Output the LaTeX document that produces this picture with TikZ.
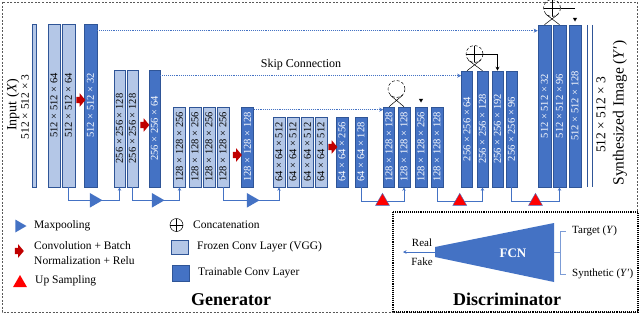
\documentclass[tikz,border=0pt]{standalone}
\usepackage{fontspec}
\setmainfont{Liberation Serif}
\usepackage{graphicx}
\definecolor{frozenblue}{RGB}{180, 199, 231}
\definecolor{trainblue}{RGB}{68, 114, 196}
\definecolor{barline}{RGB}{47, 85, 151}
\definecolor{convred}{RGB}{192, 0, 0}
\definecolor{upred}{RGB}{255, 0, 0}
\usetikzlibrary{
    shapes.geometric,
    shapes.arrows,
    arrows.meta,
    positioning,
    calc
}
\newcommand{\dimlabel}[1]{\rotatebox{90}{#1}}

\begin{document}
\begin{tikzpicture}[x=1pt, y=-1pt,
    frozen/.style={draw=barline, fill=frozenblue, inner sep=0pt, line width=0.6pt,
                   font=\fontsize{10.5}{11}\selectfont},
    trainable/.style={frozen, fill=trainblue, text=white},
    skipline/.style={trainblue, densely dotted, line width=0.9pt, -{Stealth[length=4pt, width=4pt]}},
    link/.style={trainblue, line width=0.7pt, -{Stealth[length=3.5pt, width=3.5pt]}},
    pool/.style={regular polygon, regular polygon sides=3, shape border rotate=-90,
                 fill=trainblue, inner sep=0pt, minimum size=17},
    upsample/.style={regular polygon, regular polygon sides=3, fill=upred, draw=trainblue,
                     line width=0.4pt, inner sep=0pt, minimum size=16},
    conv/.style={single arrow, fill=convred, inner sep=0pt, minimum height=9,
                 single arrow head extend=3.5, single arrow tip angle=100},
    merge/.style={circle, draw, densely dashed, line width=0.5pt, minimum size=17, inner sep=0pt},
    concat/.style={merge, path picture={\draw[solid, line width=0.6pt]
        (path picture bounding box.north) -- (path picture bounding box.south)
        (path picture bounding box.west) -- (path picture bounding box.east);}},
    tipmark/.style={regular polygon, regular polygon sides=3, shape border rotate=180,
                    fill=black, inner sep=0pt, minimum size=5},
    keytext/.style={anchor=west, inner sep=0pt, font=\fontsize{11.5}{15}\selectfont},
]
\useasboundingbox (0,0) rectangle (640,314);

% Generator frame
\draw[gray!70!black, dash pattern=on 2pt off 1.5pt, line width=0.5pt] (2,2) rectangle (637,312);

% Input
\node[rotate=90, font=\fontsize{14}{14}\selectfont] (inlabel) at (13,105) {Input (\textit{X})};
\node[rotate=90, font=\fontsize{11.5}{12}\selectfont] (indims) at (25,107) {512 × 512 × 3};
\node[frozen, minimum width=4, minimum height=163] (in) at (34,105.5) {};

% Encoder, 512 level
\node[frozen, minimum width=12, minimum height=163] (e1) at (54,105.5) {\dimlabel{512 × 512 × 64}};
\node[frozen, minimum width=13, minimum height=163] (e2) at (68.5,105.5) {\dimlabel{512 × 512 × 64}};
\node[trainable, minimum width=13, minimum height=163] (e3) at (90.5,105.5) {\dimlabel{512 × 512 × 32}};
\node[conv] (c1) at (79.5,100) {\rule{0pt}{6pt}};

% Encoder, 256 level
\node[frozen, minimum width=11, minimum height=117] (e4) at (119.5,128.5) {\dimlabel{256 × 256 × 128}};
\node[frozen, minimum width=11, minimum height=117] (e5) at (132.5,128.5) {\dimlabel{256 × 256 × 128}};
\node[trainable, minimum width=11, minimum height=117] (e6) at (154.5,128.5) {\dimlabel{256 × 256 × 64}};
\node[conv] (c2) at (143.5,125) {\rule{0pt}{6pt}};

% Encoder, 128 level
\foreach \n/\x in {7/179.5, 8/195, 9/209, 10/223}
    \node[frozen, minimum width=12, minimum height=80] (e\n) at (\x,147) {\dimlabel{128 × 128 × 256}};
\node[trainable, minimum width=12, minimum height=80] (e11) at (247.5,147) {\dimlabel{128 × 128 × 128}};
\node[conv] (c3) at (236,155) {\rule{0pt}{6pt}};

% Encoder, 64 level
\foreach \n/\x in {12/279, 13/293, 14/307.5, 15/321}
    \node[frozen, minimum width=12, minimum height=70] (e\n) at (\x,152) {\dimlabel{64 × 64 × 512}};
\node[trainable, minimum width=12, minimum height=70] (e16) at (342,152) {\dimlabel{64 × 64 × 256}};
\node[trainable, minimum width=12, minimum height=70] (e17) at (361,152) {\dimlabel{64 × 64 × 128}};
\node[conv] (c4) at (331.5,147) {\rule{0pt}{6pt}};

% Decoder, 128 level
\node[trainable, minimum width=11, minimum height=80] (d1) at (389,147) {\dimlabel{128 × 128 × 128}};
\node[trainable, minimum width=12, minimum height=80] (d2) at (404,147) {\dimlabel{128 × 128 × 128}};
\node[trainable, minimum width=12, minimum height=80] (d3) at (421,147) {\dimlabel{128 × 128 × 256}};
\node[trainable, minimum width=12, minimum height=80] (d4) at (437,147) {\dimlabel{128 × 128 × 128}};

% Decoder, 256 level
\node[trainable, minimum width=11, minimum height=116] (d5) at (467,129) {\dimlabel{256 × 256 × 64}};
\node[trainable, minimum width=11, minimum height=116] (d6) at (482.5,129) {\dimlabel{256 × 256 × 128}};
\node[trainable, minimum width=11, minimum height=116] (d7) at (497.5,129) {\dimlabel{256 × 256 × 192}};
\node[trainable, minimum width=11, minimum height=116] (d8) at (511.5,129) {\dimlabel{256 × 256 × 96}};

% Decoder, 512 level
\node[trainable, minimum width=13, minimum height=162] (d9) at (544.5,106) {\dimlabel{512 × 512 × 32}};
\node[trainable, minimum width=13, minimum height=162] (d10) at (559.5,106) {\dimlabel{512 × 512 × 96}};
\node[trainable, minimum width=12, minimum height=162] (d11) at (575,106) {\dimlabel{512 × 512 × 128}};

% Output
\node[minimum width=4, minimum height=162, inner sep=0pt] (out) at (590,106) {};
\draw[barline, line width=0.8pt] (out.north west) -- (out.south west) (out.north east) -- (out.south east);
\node[rotate=90, font=\fontsize{13.5}{14}\selectfont] (outdims) at (601,115) {512 × 512 × 3};
\node[rotate=90, font=\fontsize{15.5}{16}\selectfont] (outlabel) at (620,113) {Synthesized Image (\textit{Y}′)};

% Skip connections
\draw[skipline] ($(e3.north east)+(0,7)$) coordinate (s1) -- (s1 -| d9.west);
\draw[skipline] ($(e6.north east)+(0,6)$) coordinate (s2) -- (s2 -| d5.west);
\draw[skipline] ($(e11.north east)+(0,3)$) coordinate (s3) -- (s3 -| d1.west);
\node[font=\fontsize{12}{12}\selectfont] (skiptxt) at (301,65) {Skip Connection};

% Maxpooling
\draw[link] (e2.south) -- ++(0,13) -| (e4.south) node[pos=0.25, pool] (p1) {};
\draw[link] (e5.south) -- ++(0,13) -| (e7.south) node[pos=0.25, pool] (p2) {};
\draw[link] (e10.south) -- ++(0,13) -| (e12.south) node[pos=0.25, pool] (p3) {};

% Up sampling
\draw[link] (e17.south) -- ++(0,14) -| (d2.south) node[pos=0.25, upsample] (u1) {};
\draw[link] (d4.south) -- ++(0,14) -| (d6.south) node[pos=0.25, upsample] (u2) {};
\draw[link] (d8.south) -- ++(0,14) -| (d10.south) node[pos=0.25, upsample] (u3) {};

% Concatenation
\node[merge] (m1) at (396.5,89) {};
\draw[line width=0.5pt] (m1.south east) -- (d1.north) (m1.south west) -- (d2.north);
\node[tipmark] (t1) at (421,100) {};
\node[concat] (m2) at (474.5,54) {};
\draw[line width=0.5pt] (m2.south east) -- (d5.north) (m2.south west) -- (d6.north);
\draw[line width=0.6pt, -{Stealth[length=4pt, width=4pt]}] (m2.east) -| (d7.north);
\node[concat] (m3) at (552,8) {};
\draw[line width=0.5pt] (m3.south east) -- (d9.north) (m3.south west) -- (d10.north);
\draw[line width=0.6pt] (m3.east) -- (m3.east -| d11.north);
\node[tipmark] (t3) at (575,19) {};

% Legend
\node[pool, minimum size=15] (lpool) at (19,226) {};
\node[keytext] (lpooltxt) at (34,226) {Maxpooling};
\node[conv] (lconv) at (18,251) {\rule{0pt}{6pt}};
\node[keytext, align=left] (lconvtxt) at (34,253.5) {Convolution + Batch\\Normalization + Relu};
\node[upsample, draw=none] (lup) at (20,283) {};
\node[keytext] (luptxt) at (35,281) {Up Sampling};
\node[concat, solid, minimum size=13] (lcat) at (176.5,225) {};
\node[keytext] (lcattxt) at (193,225) {Concatenation};
\node[frozen, minimum width=17, minimum height=14] (lfrozen) at (179.5,247) {};
\node[keytext] (lfrozentxt) at (197,247) {Frozen Conv Layer (VGG)};
\node[trainable, minimum width=17, minimum height=16] (ltrain) at (180.5,273) {};
\node[keytext] (ltraintxt) at (198,273) {Trainable Conv Layer};
\node[font=\bfseries\fontsize{18}{18}\selectfont] (gen) at (231,300) {Generator};

% Discriminator
\draw[densely dotted, line width=1.1pt, fill=white] (393,212) rectangle (638,312);
\fill[trainblue] (435,247) -- (554,223) -- (554,282) -- (435,257) -- cycle;
\coordinate (tip) at (435,252);
\coordinate (fcnr) at (554,252.5);
\coordinate (rf) at (403,252);
\node[text=white, font=\bfseries\fontsize{13}{13}\selectfont] (fcn) at (513,253) {FCN};
\draw[link] (tip) -- (rf);
\node[font=\fontsize{11}{11}\selectfont] (real) at (422,243) {Real};
\node[font=\fontsize{11}{11}\selectfont] (fake) at (422,262) {Fake};
\node[keytext, font=\fontsize{11}{11}\selectfont] (tgt) at (572,231) {Target (\textit{Y})};
\node[keytext, font=\fontsize{11}{11}\selectfont] (syn) at (572,274) {Synthetic (\textit{Y}′)};
\coordinate (br) at (560,252.5);
\draw[trainblue!70, line width=0.6pt] (fcnr) -- (br)
    (br |- tgt.west) -- (br |- syn.west)
    (br |- tgt.west) -- ([xshift=-6pt]tgt.west)
    (br |- syn.west) -- ([xshift=-6pt]syn.west);
\node[font=\bfseries\fontsize{18}{18}\selectfont] (disc) at (507,299) {Discriminator};
\end{tikzpicture}
\end{document}
